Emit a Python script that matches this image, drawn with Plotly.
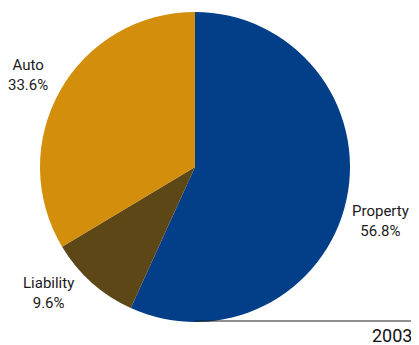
import plotly.graph_objects as go

categories = ["Property", "Liability", "Auto"]
values = [56.8, 9.6, 33.6]
colors = ["#023F88", "#5D4717", "#D38E0C"]
year_label = "2003"

# page body has an 8px default margin; size the figure so it fills the 419x345 window
OFF = 8
W, H = 419 - OFF, 345 - OFF
FONT = "Roboto, Liberation Sans, sans-serif"


def px(x):
    return (x - OFF) / W


def py(y):
    return 1 - (y - OFF) / H


fig = go.Figure(go.Pie(
    labels=categories, values=values, sort=False, direction="clockwise",
    rotation=0, marker=dict(colors=colors, line=dict(width=0)),
    textinfo="none", hoverinfo="label+percent", showlegend=False,
    domain=dict(x=[px(40), px(350)], y=[py(322), py(12)]),
))

label_pos = {"Property": (380.5, 221), "Liability": (48, 293), "Auto": (27.5, 75.5)}
for c, v in zip(categories, values):
    x, y = label_pos[c]
    fig.add_annotation(x=px(x), y=py(y), xref="paper", yref="paper",
                       text=f"{c}<br>{v:.1f}%", showarrow=False,
                       font=dict(size=15, color="#1a1a1a", family=FONT),
                       xanchor="center", yanchor="middle", align="center")

fig.add_shape(type="line", xref="paper", yref="paper",
              x0=px(195), x1=px(413), y0=py(321), y1=py(321),
              line=dict(color="#222222", width=1.2))
fig.add_annotation(x=px(414), y=py(335.5), xref="paper", yref="paper",
                   text=year_label, showarrow=False, xanchor="right", yanchor="middle",
                   font=dict(size=18, color="#111111", family=FONT))

fig.update_layout(width=W, height=H, margin=dict(l=0, r=0, t=0, b=0),
                  paper_bgcolor="white", plot_bgcolor="white")
fig.write_html("out.html")
